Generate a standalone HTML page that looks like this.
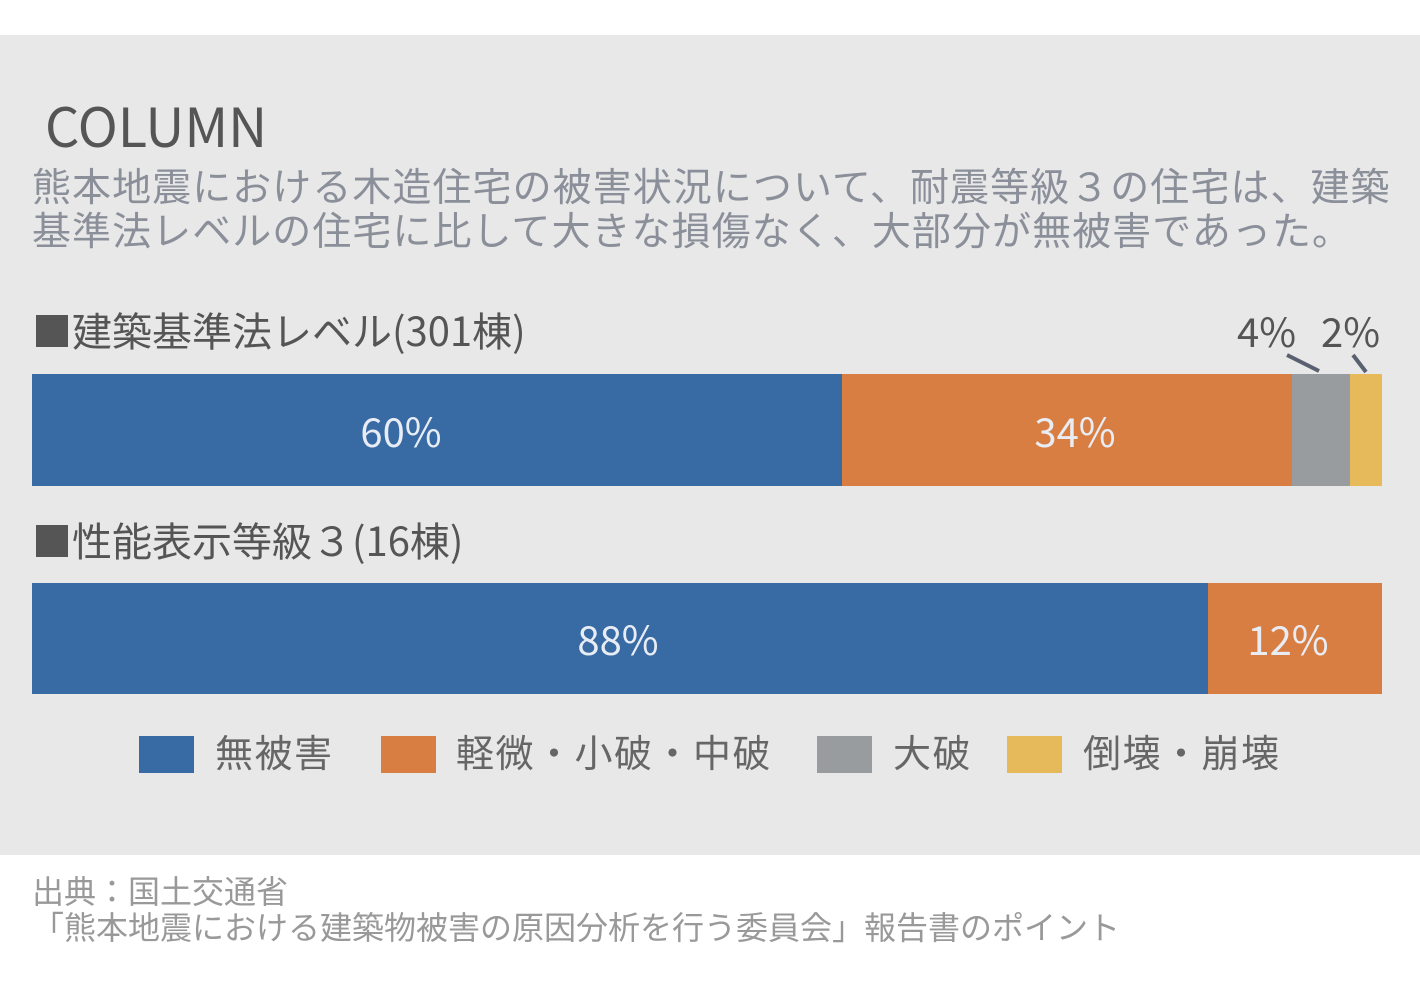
<!DOCTYPE html>
<html><head><meta charset="utf-8"><style>
body{margin:0;width:1420px;height:990px;background:#fff;position:relative;overflow:hidden;font-family:"Noto Sans CJK JP","Liberation Sans",sans-serif}
.a{position:absolute;white-space:nowrap}
.panel{position:absolute;left:0;top:35px;width:1420px;height:820px;background:#e8e8e8}
.seg{position:absolute}
.pl{position:absolute;color:#e8ecf4;font-size:40px;line-height:50px;transform:translateX(-50%);white-space:nowrap}
.lg{position:absolute;width:55px;height:37px;top:736px}
.lt{font-size:38px;color:#666;line-height:50px;top:726px;letter-spacing:1.5px}
</style></head><body>
<div class="panel"></div>
<div class="a" style="left:45px;top:91px;font-size:54px;color:#555;line-height:66px">COLUMN</div>
<div class="a" style="left:32px;top:163px;font-size:39px;color:#8a8f99;line-height:44px;letter-spacing:1.05px">熊本地震における木造住宅の被害状況について、耐震等級３の住宅は、建築<br>基準法レベルの住宅に比して大きな損傷なく、大部分が無被害であった。</div>
<div class="a" style="left:32px;top:304px;font-size:40px;color:#555;line-height:50px">■建築基準法レベル(301棟)</div>
<div class="a" style="left:1237px;top:305px;font-size:40px;color:#555;line-height:50px">4%</div>
<div class="a" style="left:1321px;top:305px;font-size:40px;color:#555;line-height:50px">2%</div>
<svg class="a" style="left:0;top:0" width="1420" height="990"><line x1="1287" y1="355" x2="1319" y2="371" stroke="#5a6070" stroke-width="4"/><line x1="1353" y1="355" x2="1366" y2="372" stroke="#5a6070" stroke-width="4"/></svg>
<div class="seg" style="left:32px;top:374px;width:810px;height:112px;background:#386aa4"></div>
<div class="seg" style="left:842px;top:374px;width:450px;height:112px;background:#d97e43"></div>
<div class="seg" style="left:1292px;top:374px;width:58px;height:112px;background:#999c9f"></div>
<div class="seg" style="left:1350px;top:374px;width:32px;height:112px;background:#e6b95a"></div>
<div class="pl" style="left:401px;top:405px">60%</div>
<div class="pl" style="left:1075px;top:405px">34%</div>
<div class="a" style="left:32px;top:514px;font-size:40px;color:#555;line-height:50px">■性能表示等級３(16棟)</div>
<div class="seg" style="left:32px;top:583px;width:1176px;height:111px;background:#386aa4"></div>
<div class="seg" style="left:1208px;top:583px;width:174px;height:111px;background:#d97e43"></div>
<div class="pl" style="left:618px;top:613px">88%</div>
<div class="pl" style="left:1288px;top:613px">12%</div>
<div class="lg" style="left:139px;background:#386aa4"></div>
<div class="a lt" style="left:215px">無被害</div>
<div class="lg" style="left:381px;background:#d97e43"></div>
<div class="a lt" style="left:456px">軽微・小破・中破</div>
<div class="lg" style="left:817px;background:#999c9f"></div>
<div class="a lt" style="left:893px">大破</div>
<div class="lg" style="left:1007px;background:#e6b95a"></div>
<div class="a lt" style="left:1083px">倒壊・崩壊</div>
<div class="a" style="left:32px;top:872px;font-size:32px;color:#999;line-height:36px">出典：国土交通省<br>「熊本地震における建築物被害の原因分析を行う委員会」報告書のポイント</div>
</body></html>
